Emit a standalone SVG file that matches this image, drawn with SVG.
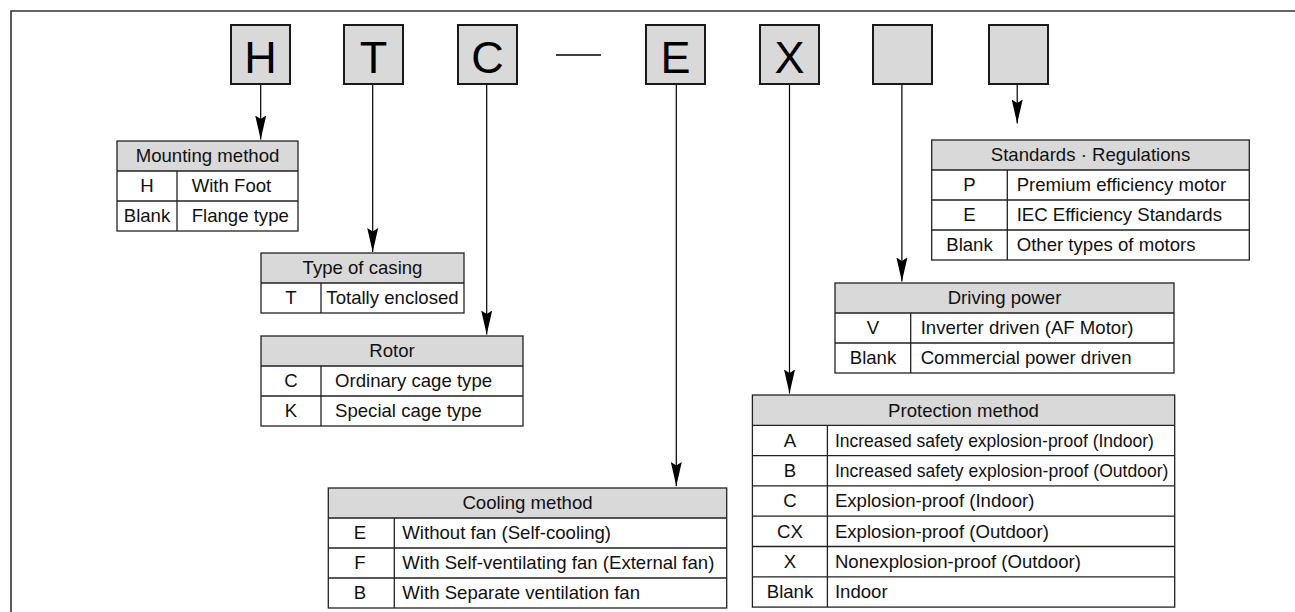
<svg xmlns="http://www.w3.org/2000/svg" width="1295" height="612" viewBox="0 0 1295 612">
<style>
.frame{stroke:#333;stroke-width:1.6;fill:none}
.box{fill:#d9d9d9;stroke:#1a1a1a;stroke-width:2}
.letter{font-family:"Liberation Sans",Arial,Helvetica,sans-serif;font-size:45px;text-anchor:middle;fill:#000}
.hdr{fill:#d9d9d9;stroke:none}
.grid{fill:none;stroke:#222;stroke-width:1.3}
.t{font-family:"Liberation Sans",Arial,Helvetica,sans-serif;font-size:18.6px;fill:#111}
.c{text-anchor:middle}
.conn{stroke:#000;stroke-width:1.2;fill:none;marker-end:url(#arr)}
.dash{stroke:#000;stroke-width:1.5}
</style>
<defs>
<marker id="arr" markerUnits="userSpaceOnUse" markerWidth="24" markerHeight="12" viewBox="0 0 24 12" refX="24" refY="6" orient="auto">
<path d="M0,0.5 L24,6 L0,11.5 L3.5,6 Z" fill="#000"/>
</marker>
</defs>
<rect width="1295" height="612" fill="#fff"/>
<path class="frame" d="M11,612 V11 H1295"/>

<g id="code">
<g id="box-H"><rect class="box" x="231" y="25" width="59" height="59"/><text class="letter" x="260.5" y="73">H</text></g>
<g id="box-T"><rect class="box" x="344" y="25" width="59" height="59"/><text class="letter" x="373.5" y="73">T</text></g>
<g id="box-C"><rect class="box" x="458" y="25" width="59" height="59"/><text class="letter" x="487.5" y="73">C</text></g>
<line class="dash" x1="556" y1="55" x2="601" y2="55"/>
<g id="box-E"><rect class="box" x="646" y="25" width="59" height="59"/><text class="letter" x="675.5" y="73">E</text></g>
<g id="box-X"><rect class="box" x="760" y="25" width="59" height="59"/><text class="letter" x="789.5" y="73">X</text></g>
<g id="box-blank1"><rect class="box" x="873" y="25" width="59" height="59"/></g>
<g id="box-blank2"><rect class="box" x="989" y="25" width="59" height="59"/></g>
</g>

<g id="connectors">
<line class="conn" x1="260.7" y1="85" x2="260.7" y2="139.5"/>
<line class="conn" x1="372.7" y1="85" x2="372.7" y2="252"/>
<line class="conn" x1="486.7" y1="85" x2="486.7" y2="334.5"/>
<line class="conn" x1="676.3" y1="85" x2="676.3" y2="486"/>
<line class="conn" x1="789.5" y1="85" x2="789.5" y2="393.5"/>
<line class="conn" x1="901.9" y1="85" x2="901.9" y2="281.5"/>
<line class="conn" x1="1017.2" y1="85" x2="1017.2" y2="123.5"/>
</g>

<g id="mounting">
<rect class="hdr" x="117" y="141" width="181" height="30"/>
<rect class="grid" x="117" y="141" width="181" height="90"/>
<path class="grid" d="M117,171 H298 M117,201 H298 M177,171 V231"/>
<text class="t c" x="207.5" y="162.3">Mounting method</text>
<text class="t c" x="147" y="192.3">H</text>
<text class="t" x="191.7" y="192.3">With Foot</text>
<text class="t c" x="147" y="222.3">Blank</text>
<text class="t" x="191.7" y="222.3">Flange type</text>
</g>

<g id="casing">
<rect class="hdr" x="261" y="253" width="203" height="30"/>
<rect class="grid" x="261" y="253" width="203" height="60"/>
<path class="grid" d="M261,283 H464 M321,283 V313"/>
<text class="t c" x="362.5" y="274.3">Type of casing</text>
<text class="t c" x="291" y="304.3">T</text>
<text class="t c" x="392.5" y="304.3">Totally enclosed</text>
</g>

<g id="rotor">
<rect class="hdr" x="261" y="336" width="262" height="30"/>
<rect class="grid" x="261" y="336" width="262" height="90"/>
<path class="grid" d="M261,366 H523 M261,396 H523 M321,366 V426"/>
<text class="t c" x="392" y="357.3">Rotor</text>
<text class="t c" x="291" y="387.3">C</text>
<text class="t" x="335" y="387.3">Ordinary cage type</text>
<text class="t c" x="291" y="417.3">K</text>
<text class="t" x="335" y="417.3">Special cage type</text>
</g>

<g id="cooling">
<rect class="hdr" x="328.3" y="488" width="398.4" height="30"/>
<rect class="grid" x="328.3" y="488" width="398.4" height="120"/>
<path class="grid" d="M328.3,518 H726.7 M328.3,548 H726.7 M328.3,578 H726.7 M394.3,518 V608"/>
<text class="t c" x="527.5" y="509.3">Cooling method</text>
<text class="t c" x="360" y="539.3">E</text>
<text class="t" x="402.3" y="539.3">Without fan (Self-cooling)</text>
<text class="t c" x="360" y="569.3">F</text>
<text class="t" x="402.3" y="569.3">With Self-ventilating fan (External fan)</text>
<text class="t c" x="360" y="599.3">B</text>
<text class="t" x="402.3" y="599.3">With Separate ventilation fan</text>
</g>

<g id="protection">
<rect class="hdr" x="752.4" y="395" width="422.3" height="30.3"/>
<rect class="grid" x="752.4" y="395" width="422.3" height="212.1"/>
<path class="grid" d="M752.4,425.3 H1174.7 M752.4,455.6 H1174.7 M752.4,485.9 H1174.7 M752.4,516.2 H1174.7 M752.4,546.5 H1174.7 M752.4,576.8 H1174.7 M827.4,425.3 V607.1"/>
<text class="t c" x="963.5" y="416.5">Protection method</text>
<text class="t c" x="790" y="446.8">A</text>
<text class="t" x="834.9" y="446.8" textLength="319" lengthAdjust="spacingAndGlyphs">Increased safety explosion-proof (Indoor)</text>
<text class="t c" x="790" y="477.1">B</text>
<text class="t" x="834.9" y="477.1" textLength="333.5" lengthAdjust="spacingAndGlyphs">Increased safety explosion-proof (Outdoor)</text>
<text class="t c" x="790" y="507.4">C</text>
<text class="t" x="834.9" y="507.4">Explosion-proof (Indoor)</text>
<text class="t c" x="790" y="537.7">CX</text>
<text class="t" x="834.9" y="537.7">Explosion-proof (Outdoor)</text>
<text class="t c" x="790" y="568">X</text>
<text class="t" x="834.9" y="568">Nonexplosion-proof (Outdoor)</text>
<text class="t c" x="790" y="598.3">Blank</text>
<text class="t" x="834.9" y="598.3">Indoor</text>
</g>

<g id="driving">
<rect class="hdr" x="835" y="283" width="339" height="30"/>
<rect class="grid" x="835" y="283" width="339" height="90"/>
<path class="grid" d="M835,313 H1174 M835,343 H1174 M910.7,313 V373"/>
<text class="t c" x="1004.5" y="304.3">Driving power</text>
<text class="t c" x="873" y="334.3">V</text>
<text class="t" x="920.7" y="334.3">Inverter driven (AF Motor)</text>
<text class="t c" x="873" y="364.3">Blank</text>
<text class="t" x="920.7" y="364.3">Commercial power driven</text>
</g>

<g id="standards">
<rect class="hdr" x="931.7" y="140" width="317.6" height="30"/>
<rect class="grid" x="931.7" y="140" width="317.6" height="120"/>
<path class="grid" d="M931.7,170 H1249.3 M931.7,200 H1249.3 M931.7,230 H1249.3 M1007.3,170 V260"/>
<text class="t c" x="1090.5" y="161.3">Standards · Regulations</text>
<text class="t c" x="969.5" y="191.3">P</text>
<text class="t" x="1016.7" y="191.3">Premium efficiency motor</text>
<text class="t c" x="969.5" y="221.3">E</text>
<text class="t" x="1016.7" y="221.3">IEC Efficiency Standards</text>
<text class="t c" x="969.5" y="251.3">Blank</text>
<text class="t" x="1016.7" y="251.3">Other types of motors</text>
</g>
</svg>
